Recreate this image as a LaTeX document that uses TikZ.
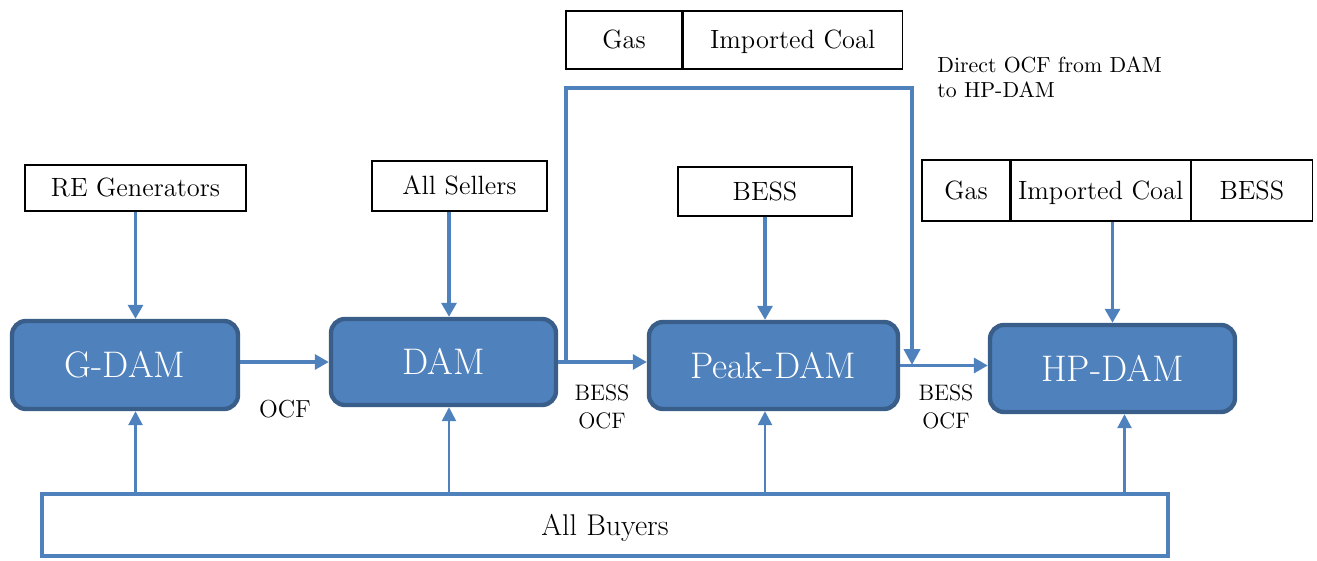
\documentclass[tikz,border=0pt]{standalone}
\usepackage{fontspec}
\usepackage{xcolor}
\definecolor{mktblue}{RGB}{79,129,189}
\definecolor{mktedge}{RGB}{58,94,138}
\usepackage{tikz}
\usetikzlibrary{arrows.meta,positioning,calc}

\begin{document}
\begin{tikzpicture}[
  x=0.5pt,y=-0.5pt,
  src/.style={rectangle,draw=black,line width=0.6pt,fill=white,inner sep=0pt,
              text height=9pt,text depth=0pt,
              font=\fontsize{13.2}{16}\selectfont},
  mkt/.style={rectangle,rounded corners=7pt,draw=mktedge,fill=mktblue,
              line width=2.2pt,inner sep=0pt,text=white,
              text height=12.6pt,text depth=0pt,
              font=\fontsize{18.5}{22}\selectfont},
  buyers/.style={rectangle,draw=mktblue,line width=2pt,fill=white,inner sep=0pt,
                 text height=10.2pt,text depth=0pt,
                 font=\fontsize{15}{18}\selectfont},
  flow/.style={draw=mktblue,line width=1.6pt,-{Triangle[length=7pt,width=7.5pt]}},
  upflow/.style={draw=mktblue,line width=1.3pt,-{Triangle[length=7pt,width=7pt]}},
  bypass/.style={draw=mktblue,line width=2.2pt,-{Triangle[length=8pt,width=8pt]}},
  lbl/.style={inner sep=0pt,align=center,font=\fontsize{11.2}{14}\selectfont},
]
  \useasboundingbox (0,0) rectangle (1317,561);

  % markets
  \node[mkt,minimum width=113pt,minimum height=44pt](G) at (125,365) {G-DAM};
  \node[mkt,minimum width=112.5pt,minimum height=43pt](D) at (443.5,362) {DAM};
  \node[mkt,minimum width=124.5pt,minimum height=43.5pt](P) at (773.5,365.5) {Peak-DAM};
  \node[mkt,minimum width=122.5pt,minimum height=43.5pt](H) at (1112.5,368.5) {HP-DAM};

  % sellers
  \node[src,minimum width=110.5pt,minimum height=23pt](RE) at (135.5,188) {RE Generators};
  \node[src,minimum width=87.5pt,minimum height=25pt](S) at (459.5,186) {All Sellers};
  \node[src,minimum width=87pt,minimum height=24.5pt](B) at (765,191.5) {BESS};

  \node[src,minimum width=58pt,minimum height=29pt](TG) at (624,40) {Gas};
  \node[src,minimum width=109.5pt,minimum height=29pt,right=0pt of TG](TC) {Imported Coal};

  \node[src,minimum width=44pt,minimum height=30.5pt](RG) at (966,190.5) {Gas};
  \node[src,minimum width=89.5pt,minimum height=30.5pt,right=0pt of RG](RC) {Imported Coal};
  \node[src,minimum width=60.5pt,minimum height=30.5pt,right=0pt of RC](RB) {BESS};

  \node[buyers,minimum width=563pt,minimum height=31pt](AB) at (605,525) {All Buyers};

  % supply into the markets
  \draw[flow] (RE.south) -- (RE.south |- G.north);
  \draw[flow] ([xshift=2.75pt]D.north |- S.south) -- ([xshift=2.75pt]D.north);
  \draw[flow] (B.south) -- (B.south |- P.north);
  \draw[flow] (H.north |- RC.south) -- (H.north);

  % buyers into the markets
  \draw[upflow] (RE.south |- AB.north) -- (RE.south |- G.south);
  \draw[upflow] ([xshift=2.75pt]D.south |- AB.north) -- ([xshift=2.75pt]D.south);
  \draw[upflow] (B.south |- AB.north) -- (B.south |- P.south);
  \draw[upflow] ([xshift=6pt]H.south |- AB.north) -- ([xshift=6pt]H.south);

  % carry-forward between markets
  \draw[flow] (D.west -| G.east) -- (D.west);
  \draw[flow] (D.east) -- (D.east -| P.west);
  \draw[flow] (P.east) -- (P.east -| H.west);

  \node[lbl,font=\fontsize{12.3}{15}\selectfont](L1) at (285,409) {OCF};
  \node[lbl](L2) at (602,407) {BESS\\OCF};
  \node[lbl](L3) at (946,407) {BESS\\OCF};

  % direct route DAM -> HP-DAM
  \coordinate (j1) at (566,362);
  \coordinate (tr) at (912,88);
  \coordinate (j2) at (912,365);
  \draw[bypass] (j1) |- (tr) -- (j2);
  \node[inner sep=0pt,anchor=north west,align=left,
        font=\fontsize{10.9}{12.5}\selectfont](N) at (937,56)
    {Direct OCF from DAM\\to HP-DAM};
\end{tikzpicture}
\end{document}
